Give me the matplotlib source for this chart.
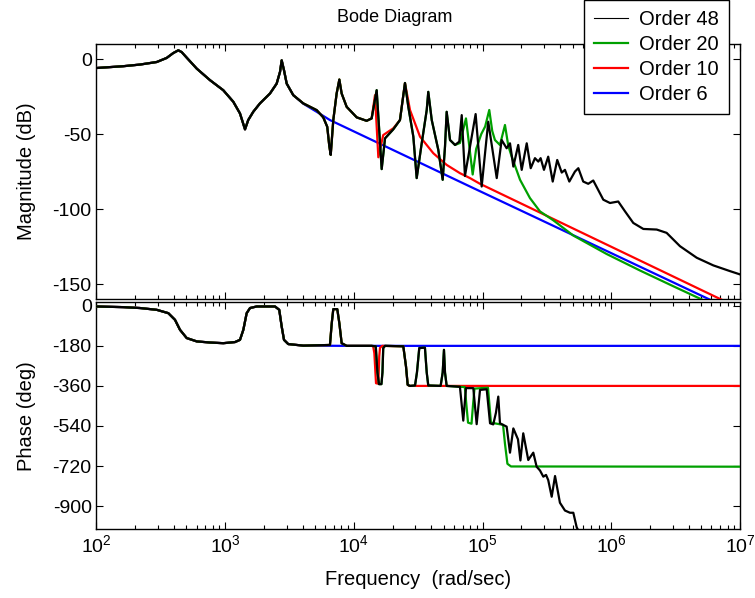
"""
Bode diagram: magnitude and phase of a 48th order model and its
reduced approximations (orders 20, 10 and 6).

Values were read off the reference picture. Frequencies are kept as
log10(rad/sec) so the sharp resonances are easy to place.
"""

import numpy as np
import matplotlib
matplotlib.use("Agg")
import matplotlib.pyplot as plt
from matplotlib.lines import Line2D

# ---------------- magnitude (dB) ----------------
# shared by every order, up to just past the second resonance
lw_mag_common = [2.000, 2.208, 2.338, 2.468, 2.545, 2.597, 2.636, 2.662, 2.701, 2.779,
                 2.882, 2.985, 3.063, 3.115, 3.154, 3.179, 3.218, 3.270, 3.348, 3.400,
                 3.426, 3.439, 3.457, 3.478, 3.529]
mag_common = [-6.0, -4.8, -3.7, -2.0, 0.7, 4.0, 5.8, 4.6, 0.9, -6.4,
              -14.1, -20.8, -28.5, -36.3, -46.9, -40.7, -35.2, -29.6, -23.0, -16.4,
              -8.6, -0.9, -7.5, -16.4, -24.1]

# third mode, kept by orders 48, 20 and 10
lw_mag_mid = [3.607, 3.711, 3.762, 3.793, 3.809, 3.820, 3.840, 3.866, 3.887, 3.905,
              3.944, 4.022, 4.099, 4.138]
mag_mid = [-29.6, -34.1, -38.9, -45.2, -58.0, -63.9, -40.7, -23.0, -13.7, -23.0,
           -31.9, -38.9, -41.2, -39.6]

lw_mag_48 = [4.177, 4.216, 4.242, 4.306, 4.358, 4.397, 4.423, 4.462, 4.488, 4.527,
             4.566, 4.578, 4.605, 4.656, 4.690, 4.708, 4.721, 4.747, 4.786, 4.819,
             4.838, 4.863, 4.946, 4.993, 5.044, 5.110, 5.148, 5.187, 5.213, 5.239,
             5.277, 5.304, 5.343, 5.374, 5.407, 5.433, 5.451, 5.477, 5.510, 5.545,
             5.580, 5.615, 5.640, 5.674, 5.718, 5.744, 5.782, 5.821, 5.860, 5.938,
             5.990, 6.054, 6.107, 6.171, 6.249, 6.353, 6.430, 6.534, 6.664, 6.793,
             6.922, 7.000]
mag_48 = [-20.8, -73.4, -52.9, -46.9, -40.7, -16.0, -31.9, -51.8, -79.4, -56.2,
          -34.0, -21.9, -40.7, -60.6, -80.5, -58.4, -35.2, -54.0, -57.3, -55.1,
          -37.4, -78.0, -36.7, -85.0, -41.8, -79.4, -54.0, -59.5, -56.2, -71.7,
          -57.3, -73.9, -56.2, -72.8, -66.1, -68.4, -66.1, -73.9, -65.1, -81.7,
          -67.3, -75.7, -73.9, -81.7, -75.0, -72.8, -81.7, -83.2, -81.0, -93.8,
          -96.0, -95.0, -101.6, -109.3, -113.3, -113.7, -115.9, -124.8, -132.5, -137.6,
          -141.4, -143.6]

lw_mag_20 = [4.824, 4.871, 4.923, 4.950, 4.990, 5.020, 5.052, 5.075, 5.096, 5.135,
             5.174, 5.200, 5.226, 5.291, 5.368, 5.446, 5.549, 5.705, 5.964, 6.223,
             6.482, 6.720]
mag_20 = [-56.0, -39.6, -77.0, -60.0, -50.0, -45.0, -34.0, -48.0, -54.0, -57.3,
          -44.0, -58.0, -65.0, -80.5, -92.7, -101.6, -107.5, -117.7, -130.0, -141.0,
          -151.5, -161.0]

lw_mag_10 = [4.164, 4.190, 4.228, 4.306, 4.358, 4.397, 4.436, 4.514, 4.617, 4.721,
             4.824, 4.902, 4.980, 6.870]
mag_10 = [-24.1, -65.5, -50.7, -46.2, -40.7, -16.0, -34.0, -51.8, -62.8, -70.6,
          -76.1, -79.4, -83.2, -161.0]

lw_mag_6 = [3.607, 3.711, 3.814, 4.902, 6.780]
mag_6 = [-29.8, -35.2, -40.7, -85.0, -161.0]

# ---------------- phase (deg) ----------------
lw_ph_common = [2.000, 2.208, 2.338, 2.468, 2.558, 2.610, 2.649, 2.701, 2.779, 2.882,
                2.985, 3.076, 3.115, 3.141, 3.167, 3.193, 3.245, 3.387, 3.420, 3.439,
                3.457, 3.490, 3.607]
ph_common = [-3, -6, -10, -18, -33, -63, -108, -145, -160, -165,
             -168, -163, -153, -108, -33, -10, -3, -3, -18, -93,
             -153, -172, -179]

lw_ph_mid = [3.814, 3.828, 3.840, 3.871, 3.887, 3.905, 3.944, 4.138]
ph_mid = [-176, -78, -15, -15, -78, -168, -180, -180]

lw_ph_48 = [4.170, 4.183, 4.195, 4.214, 4.222, 4.228, 4.242, 4.384, 4.405, 4.418,
            4.436, 4.475, 4.490, 4.508, 4.552, 4.566, 4.578, 4.674, 4.690, 4.700,
            4.708, 4.721, 4.824, 4.850, 4.871, 4.928, 4.954, 4.980, 5.032, 5.058,
            5.083, 5.104, 5.122, 5.135, 5.187, 5.213, 5.239, 5.275, 5.294, 5.316,
            5.355, 5.376, 5.394, 5.420, 5.446, 5.472, 5.493, 5.510, 5.537, 5.563,
            5.601, 5.640, 5.679, 5.705, 5.731, 5.744]
ph_48 = [-182, -300, -352, -352, -300, -190, -180, -182, -273, -355,
         -360, -358, -300, -190, -188, -300, -358, -360, -300, -198,
         -300, -360, -364, -516, -370, -370, -532, -378, -375, -528,
         -533, -480, -408, -528, -543, -660, -551, -600, -695, -573,
         -693, -675, -660, -723, -740, -768, -760, -783, -858, -765,
         -885, -920, -930, -930, -995, -1010]

lw_ph_20 = [4.862, 4.875, 4.887, 4.914, 4.925, 4.937, 5.042, 5.054, 5.065, 5.159,
            5.174, 5.193, 5.221, 7.000]
ph_20 = [-365, -450, -525, -530, -450, -372, -368, -450, -525, -535,
         -620, -710, -722, -723]

lw_ph_10 = [4.150, 4.159, 4.172, 4.190, 4.197, 4.203, 4.220, 4.384, 4.405, 4.418,
            4.430, 7.000]
ph_10 = [-182, -213, -348, -350, -228, -189, -180, -182, -273, -355,
         -360, -360]

lw_ph_6 = [3.944, 7.000]
ph_6 = [-180, -180]

orders = ["Order 48", "Order 20", "Order 10", "Order 6"]
colors = ["black", "#00a000", "#ff0000", "#0000ff"]


def join(*parts):
    return np.concatenate([np.asarray(p, dtype=float) for p in parts])


# assemble each curve from the shared pieces
m48_w = join(lw_mag_common, lw_mag_mid, lw_mag_48)
m48 = join(mag_common, mag_mid, mag_48)
keep = m48_w <= 4.79
m20_w = join(m48_w[keep], lw_mag_20)
m20 = join(m48[keep], mag_20)
m10_w = join(lw_mag_common, lw_mag_mid, lw_mag_10)
m10 = join(mag_common, mag_mid, mag_10)
m6_w = join(lw_mag_common, lw_mag_6)
m6 = join(mag_common, mag_6)

p48_w = join(lw_ph_common, lw_ph_mid, lw_ph_48)
p48 = join(ph_common, ph_mid, ph_48)
keep = p48_w <= 4.83
p20_w = join(p48_w[keep], lw_ph_20)
p20 = join(p48[keep], ph_20)
p10_w = join(lw_ph_common, lw_ph_mid, lw_ph_10)
p10 = join(ph_common, ph_mid, ph_10)
p6_w = join(lw_ph_common, lw_ph_6)
p6 = join(ph_common, ph_6)

mags = [(m48_w, m48), (m20_w, m20), (m10_w, m10), (m6_w, m6)]
phases = [(p48_w, p48), (p20_w, p20), (p10_w, p10), (p6_w, p6)]

plt.rcParams["font.family"] = ["Liberation Sans", "DejaVu Sans"]
plt.rcParams["mathtext.default"] = "regular"
plt.rcParams["axes.unicode_minus"] = False

fig = plt.figure(figsize=(7.55, 5.98), dpi=100)
ax1 = fig.add_axes([0.1278, 0.5, 0.8523, 0.4264])
ax2 = fig.add_axes([0.1278, 0.1154, 0.8523, 0.3788])

# draw the low orders first so order 48 sits on top
for i in [3, 2, 1, 0]:
    w, v = mags[i]
    ax1.plot(10 ** w, v, color=colors[i], lw=1.6, zorder=3 + (3 - i))
    w, v = phases[i]
    ax2.plot(10 ** w, v, color=colors[i], lw=1.6, zorder=3 + (3 - i))

for ax in (ax1, ax2):
    ax.set_xscale("log")
    ax.set_xlim(1e2, 1e7)
    ax.tick_params(which="both", direction="in", top=True, right=True,
                   labelsize=14, width=0.8)
    ax.tick_params(which="major", length=5)
    ax.tick_params(which="minor", length=3)
    for s in ax.spines.values():
        s.set_linewidth(1.0)

ax1.set_ylim(-160, 10)
ax1.set_yticks([0, -50, -100, -150])
ax1.tick_params(labelbottom=False)
ax1.set_ylabel("Magnitude (dB)", fontsize=14.5)
ax1.yaxis.set_label_coords(-0.094, 0.5)

ax2.set_ylim(-1003, 15)
ax2.set_yticks([0, -180, -360, -540, -720, -900])
ax2.set_ylabel("Phase (deg)", fontsize=14.5)
ax2.yaxis.set_label_coords(-0.094, 0.5)
ax2.set_xlabel("Frequency  (rad/sec)", fontsize=14.5)
ax2.xaxis.label.set_va("center")
ax2.xaxis.set_label_coords(0.5, -0.225)

fig.text(395 / 755, 1 - 17 / 598, "Bode Diagram", ha="center", va="center", fontsize=13)

handles = [Line2D([], [], color=colors[0], lw=0.8)] + \
          [Line2D([], [], color=c, lw=1.6) for c in colors[1:]]
leg = fig.legend(handles, orders, loc="lower right",
                 bbox_to_anchor=(729 / 755, 1 - 114 / 598), fontsize=14.5,
                 fancybox=False, framealpha=1, edgecolor="black",
                 handlelength=1.7, handletextpad=0.55, labelspacing=0.3,
                 borderpad=0.5, borderaxespad=0)
leg.get_frame().set_linewidth(1.0)

fig.savefig("out.png", dpi=100)
